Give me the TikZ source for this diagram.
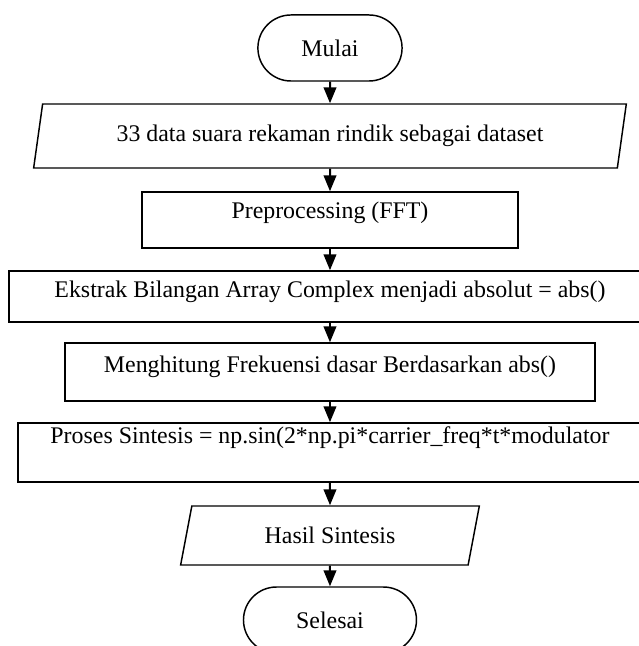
\documentclass[tikz,border=0pt]{standalone}
\usepackage{fontspec}
\setmainfont{Liberation Serif}
\usepackage{tikz}
\usetikzlibrary{shapes.geometric, arrows.meta, positioning}
\newcommand{\flowfont}{\fontsize{17.9}{21}\selectfont}
\tikzset{
  terminal/.style={rectangle, draw=black, rounded corners=0.87cm,
    minimum width=3.8cm, minimum height=1.74cm,
    font=\flowfont, line width=1.1pt},
  iobox/.style={trapezium, trapezium left angle=76, trapezium right angle=104,
    trapezium stretches=true, draw=black, inner sep=2pt,
    font=\flowfont, line width=1.1pt},
  procbox/.style={rectangle, draw=black, inner sep=2pt,
    font=\flowfont, line width=1.1pt},
  arrow/.style={-{Triangle[length=12pt, width=9.5pt]}, line width=1.5pt}
}

\begin{document}
\begin{tikzpicture}
  \useasboundingbox (-8.698,0) rectangle (8.145,-17.028);

  % Start / input
  \node[terminal] (mulai) at (0,-1.265) {Mulai};
  \node[iobox, minimum width=15.63cm, minimum height=1.687cm] (dataset) at (0,-3.585)
    {33 data suara rekaman rindik sebagai dataset};

  % Processing steps -- text sits a little high in the boxes
  \node[procbox, minimum width=9.91cm, minimum height=1.476cm, text depth=0.51cm]
    (fft) at (0,-5.799) {Preprocessing (FFT)};
  \node[procbox, minimum width=16.92cm, minimum height=1.344cm, text depth=0.38cm]
    (ekstrak) at (0,-7.815) {Ekstrak Bilangan Array Complex menjadi absolut = abs()};
  \node[procbox, minimum width=13.97cm, minimum height=1.529cm, text depth=0.40cm]
    (frekuensi) at (0,-9.806) {Menghitung Frekuensi dasar Berdasarkan abs()};
  \node[procbox, minimum width=16.45cm, minimum height=1.555cm, text depth=0.93cm]
    (sintesis) at (0,-11.927) {Proses Sintesis = np.sin(2*np.pi*carrier\_freq*t*modulator};

  % Output / end
  \node[iobox, minimum width=7.88cm, minimum height=1.555cm] (hasil) at (0,-14.115)
    {Hasil Sintesis};
  \node[terminal, minimum width=4.56cm] (selesai) at (0,-16.343) {Selesai};

  % Flow
  \draw[arrow] (mulai) -- (dataset);
  \draw[arrow] (dataset) -- (fft);
  \draw[arrow] (fft) -- (ekstrak);
  \draw[arrow] (ekstrak) -- (frekuensi);
  \draw[arrow] (frekuensi) -- (sintesis);
  \draw[arrow] (sintesis) -- (hasil);
  \draw[arrow] (hasil) -- (selesai);
\end{tikzpicture}
\end{document}
